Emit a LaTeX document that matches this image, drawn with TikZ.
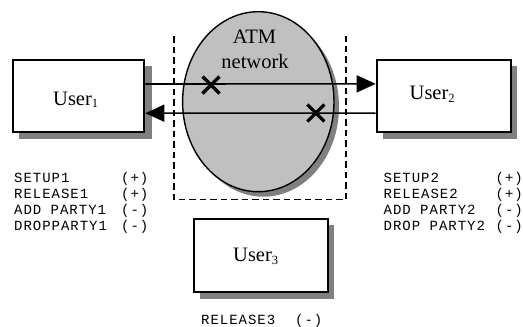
\documentclass[tikz,border=0pt]{standalone}
\usepackage{fontspec}
\setmainfont{Liberation Serif}
\newfontfamily\monofnt[LetterSpace=7]{Liberation Mono}
\usetikzlibrary{arrows.meta,shapes.geometric}
\definecolor{shadowgray}{HTML}{808080}
\definecolor{netgray}{HTML}{C0C0C0}
\newcommand\usub[1]{\raisebox{-2.5pt}{\fontsize{12.5}{13}\selectfont #1}}
\begin{document}
\begin{tikzpicture}[x=1pt,y=-1pt,
  box/.style={draw,line width=2pt,fill=white,inner sep=0pt,anchor=north west},
  utext/.style={inner sep=0pt,anchor=base west,font=\fontsize{20.5}{24}\selectfont},
  mono/.style={inner sep=0pt,anchor=base west,font=\monofnt\fontsize{14}{16}\selectfont},
  monor/.style={inner sep=0pt,anchor=base east,font=\monofnt\fontsize{14}{16}\selectfont},
  arr/.style={line width=1.6pt,-{Triangle[length=19pt,width=17pt]}},
  crossline/.style={line width=3.2pt},
  dashline/.style={line width=1.4pt,dash pattern=on 6.5pt off 4pt}]
\useasboundingbox (0,0) rectangle (523,327);
% shadows
\fill[shadowgray] (19.3,66) rectangle (151.5,139);
\fill[shadowgray] (382.7,66) rectangle (517,139);
\fill[shadowgray] (200.3,225.3) rectangle (333.7,298.7);
\fill[shadowgray] (263.3,106.7) ellipse [x radius=75.7, y radius=90];
% network
\node[draw,line width=1.4pt,fill=netgray,ellipse,inner sep=0pt,minimum width=151.4pt,minimum height=180pt] (net) at (258.3,101.7) {};
\draw[dashline] (174,36) -- (174,199.5) -- (346,199.5) -- (346,36);
\node[inner sep=0pt,anchor=base,font=\fontsize{20.5}{24}\selectfont] (atm) at (254.5,43.3) {ATM};
\node[inner sep=0pt,anchor=base,font=\fontsize{20.5}{24}\selectfont] (nw) at (255,68) {network};
% users
\node[box,minimum width=131pt,minimum height=72pt] (u1) at (12.3,59) {};
\node[box,minimum width=134.3pt,minimum height=71.7pt] (u2) at (375.7,59) {};
\node[box,minimum width=133.4pt,minimum height=72.7pt] (u3) at (193.3,218.3) {};
\node[utext] (t1) at (53,105) {User\usub{1}};
\node[utext] (t2) at (409.5,99.5) {User\usub{2}};
\node[utext] (t3) at (233,261.5) {User\usub{3}};
% arrows
\draw[arr] ([yshift=12pt]u1.east) -- ([yshift=12pt]u2.west);
\draw[arr] ([yshift=-17.2pt]u2.west) -- ([yshift=-17.2pt]u1.east);
% crosses
\coordinate (c1) at (211,85);
\coordinate (c2) at (315.8,113);
\draw[crossline] ([shift={(-8.5,-8.5)}]c1) -- ([shift={(8.5,8.5)}]c1);
\draw[crossline] ([shift={(-8.5,8.5)}]c1) -- ([shift={(8.5,-8.5)}]c1);
\draw[crossline] ([shift={(-8.5,-8.5)}]c2) -- ([shift={(8.5,8.5)}]c2);
\draw[crossline] ([shift={(-8.5,8.5)}]c2) -- ([shift={(8.5,-8.5)}]c2);
% labels left
\node[mono] (l1a) at (14,182.3) {SETUP1};
\node[mono] (l1b) at (121,182.3) {(+)};
\node[mono] (l2a) at (14,198.3) {RELEASE1};
\node[mono] (l2b) at (121,198.3) {(+)};
\node[mono] (l3a) at (14,214.3) {ADD PARTY1};
\node[mono] (l3b) at (121,214.3) {(-)};
\node[mono] (l4a) at (14,230.3) {DROPPARTY1};
\node[mono] (l4b) at (121,230.3) {(-)};
% labels right
\node[mono] (r1a) at (383.5,182.3) {SETUP2};
\node[monor] (r1b) at (523,182.3) {(+)};
\node[mono] (r2a) at (383.5,198.3) {RELEASE2};
\node[monor] (r2b) at (523,198.3) {(+)};
\node[mono] (r3a) at (383.5,214.3) {ADD PARTY2};
\node[monor] (r3b) at (523,214.3) {(-)};
\node[mono] (r4a) at (383.5,230.3) {DROP PARTY2};
\node[monor] (r4b) at (523,230.3) {(-)};
% label bottom
\node[mono] (b1a) at (201,324) {RELEASE3};
\node[mono] (b1b) at (295,324) {(-)};
\end{tikzpicture}
\end{document}
